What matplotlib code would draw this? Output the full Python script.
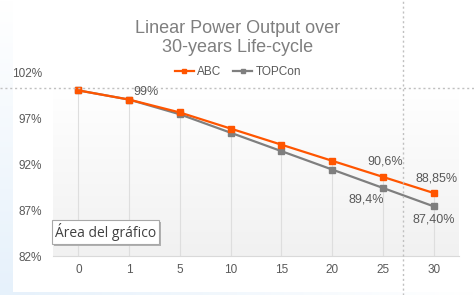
import matplotlib
matplotlib.use("Agg")
import matplotlib.pyplot as plt
import numpy as np
from matplotlib.lines import Line2D
from matplotlib.patches import Rectangle
from matplotlib.colors import LinearSegmentedColormap
import matplotlib.transforms as mtransforms

categories = ["0", "1", "5", "10", "15", "20", "25", "30"]
abc = [100, 99, 97.6, 95.85, 94.1, 92.35, 90.6, 88.85]
topcon = [100, 99, 97.4, 95.4, 93.4, 91.4, 89.4, 87.4]
yticks = [82, 87, 92, 97, 102]
ytick_labels = ["82%", "87%", "92%", "97%", "102%"]

plt.rcParams['font.family'] = ['Liberation Sans', 'DejaVu Sans']

W, H = 474, 295
fig = plt.figure(figsize=(W/100, H/100), dpi=100)
fig.patch.set_facecolor("white")

# background outside chart area (light blue tint on left / bottom edge)
bg = fig.add_axes([0, 0, 1, 1], zorder=-10)
bg.set_axis_off()
bg.set_xlim(0, W)
bg.set_ylim(H, 0)
blue = LinearSegmentedColormap.from_list("b", ["#ffffff", "#e6f1fb"])
bg.imshow(np.linspace(0, 1, 256).reshape(-1, 1), aspect="auto", cmap=blue,
          extent=(0, 13, H, 0), zorder=0)
bg.imshow(np.linspace(1, 0.3, 256).reshape(1, -1), aspect="auto", cmap=blue,
          extent=(0, W, H, 292), zorder=0)

ax = fig.add_axes([53/W, (H-256)/H, (459-53)/W, (256-72)/H])
x = np.arange(len(categories))
ax.set_xlim(-0.5, len(categories)-0.5)
ax.set_ylim(82, 102)
ax.patch.set_alpha(0)

# plot-area gradient (white top -> light gray bottom)
cmap = LinearSegmentedColormap.from_list("g", ["#f1f1f1", "#ffffff"])
ax.imshow(np.linspace(0, 1, 256).reshape(-1, 1), aspect="auto", cmap=cmap,
          extent=(-0.5, len(categories)-0.5, 82, 100.3), origin="lower", zorder=0)

# drop lines
tops = np.maximum(abc, topcon)
ax.vlines(x, 82, tops, color="#dedede", lw=0.8, zorder=1)

orange = "#ff5500"
gray = "#7f7f7f"
ax.plot(x, topcon, color=gray, lw=1.6, marker="s", ms=4, zorder=3, label="TOPCon")
ax.plot(x, abc, color=orange, lw=1.6, marker="s", ms=4, zorder=4, label="ABC")

for s in ["top", "right", "left"]:
    ax.spines[s].set_visible(False)
ax.spines["bottom"].set_color("#d9d9d9")
ax.set_xticks(x)
ax.set_xticklabels(categories)
ax.set_yticks(yticks)
ax.set_yticklabels(ytick_labels)
ax.tick_params(axis="both", length=0, labelsize=8.5, colors="#595959")
ax.tick_params(axis="x", pad=6)
ax.tick_params(axis="y", pad=8)

lab = dict(fontsize=9, color="#595959", zorder=5)
ax.annotate("99%", (1, abc[1]), xytext=(3, 1), textcoords="offset points", ha="left", va="bottom", **lab)
ax.annotate("90,6%", (6, abc[6]), xytext=(2, 7), textcoords="offset points", ha="center", va="bottom", **lab)
ax.annotate("88,85%", (7, abc[7]), xytext=(2, 6), textcoords="offset points", ha="center", va="bottom", **lab)
ax.annotate("89,4%", (6, topcon[6]), xytext=(-12, -4), textcoords="offset points", ha="center", va="top", **lab)
ax.annotate("87,40%", (7, topcon[7]), xytext=(0, -5), textcoords="offset points", ha="center", va="top", **lab)

# title
fig.text(238/W, 1-38/H, "Linear Power Output over\n30-years Life-cycle", ha="center", va="center",
         fontsize=13, color="#7f7f7f", linespacing=1.15)

# legend
handles = [Line2D([0], [0], color=orange, lw=1.6, marker="s", ms=3.5),
           Line2D([0], [0], color=gray, lw=1.6, marker="s", ms=3.5)]
fig.legend(handles, ["ABC", "TOPCon"], loc="center", bbox_to_anchor=(238/W, 1-72/H), ncol=2,
           frameon=False, fontsize=8.5, labelcolor="#595959", handlelength=1.6, handletextpad=0.3,
           columnspacing=1.0)

# selection guides
fig.add_artist(Line2D([0, 1], [1-88/H, 1-88/H], transform=fig.transFigure, color="#c0c0c0",
                      lw=1, ls=(0, (1.5, 2))))
fig.add_artist(Line2D([403/W, 403/W], [0, 1], transform=fig.transFigure, color="#c0c0c0",
                      lw=1, ls=(0, (1.5, 2))))

# tooltip with shadow, placed in pixel coordinates (from top)
pix = mtransforms.Affine2D().scale(1/W, -1/H).translate(0, 1) + fig.transFigure
tip = fig.text(55, 232, "Área del gráfico", transform=pix, color="#404040",
               ha="left", va="center", fontsize=10, family=["Open Sans", "DejaVu Sans"], zorder=20,
               bbox=dict(boxstyle="square,pad=0.2", fc="white", ec="#a8a8a8", lw=0.8))
fig.canvas.draw()
bb = tip.get_bbox_patch().get_window_extent()
fig.add_artist(Rectangle((bb.x0 + 2, bb.y0 - 2), bb.width, bb.height, transform=None,
                         fc="#b0b0b0", ec="none", zorder=19))

fig.savefig("out.png", dpi=100)
